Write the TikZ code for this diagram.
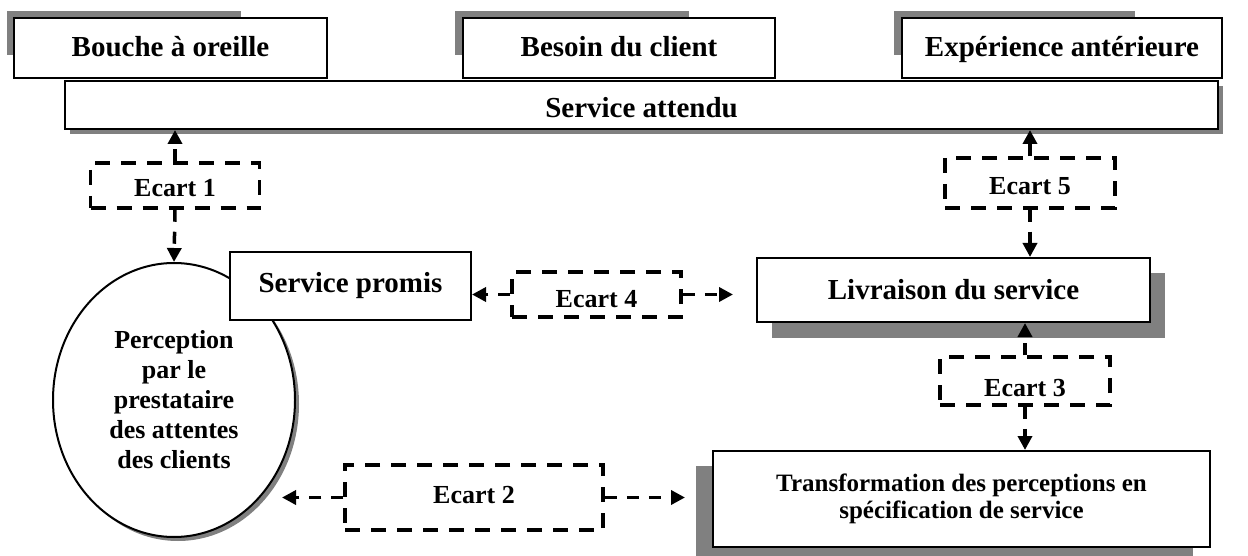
\documentclass[tikz,border=0pt]{standalone}
\usepackage{fontspec}
\setmainfont{Liberation Serif}
\usetikzlibrary{arrows.meta,shapes.geometric}
\definecolor{shade}{HTML}{808080}
\begin{document}
\begin{tikzpicture}[x=1pt,y=-1pt,
  box/.style={draw=black, line width=2pt, fill=white, rectangle, inner sep=0pt,
    font=\bfseries\fontsize{29}{34}\selectfont, align=center},
  toprow/.style={box, minimum height=60pt, text height=22pt, text depth=4pt},
  gapbox/.style={draw=black, line width=3.5pt, dash pattern=on 15pt off 11pt,
    rectangle, inner sep=0pt, text depth=0pt,
    font=\bfseries\fontsize{26}{30}\selectfont},
  conn/.style={line width=3.5pt, dash pattern=on 12pt off 10pt,
    -{Triangle[length=14pt,width=14pt]}},
  shadowfill/.style={fill=shade, draw=none}
]
\useasboundingbox (0,0) rectangle (1248,556);

% shadows behind the boxes
\fill[shadowfill] (7,11) rectangle (241,55);
\fill[shadowfill] (455,11) rectangle (689,55);
\fill[shadowfill] (894,11) rectangle (1135,55);
\fill[shadowfill] (70,86) rectangle (1223,134);
\fill[shadowfill] (772,273) rectangle (1165,338);
\fill[shadowfill] (696,466) rectangle (1193,560);
\fill[shadowfill] (178,404) ellipse [x radius=121pt, y radius=137pt];

% sources of the expected service
\node[toprow, minimum width=313pt] (bouche) at (170.5,48) {Bouche à oreille};
\node[toprow, minimum width=312pt] (besoin) at (619,48) {Besoin du client};
\node[toprow, minimum width=320pt] (experience) at (1062,48) {Expérience antérieure};
\node[box, minimum width=1153pt, minimum height=48pt, text height=26pt, text depth=0pt]
  (attendu) at (641.5,105) {Service attendu};

% provider side
\node[draw=black, line width=2pt, fill=white, ellipse, inner sep=0pt,
  minimum width=242pt, minimum height=274pt, align=center,
  font=\bfseries\fontsize{26}{30}\selectfont] (perc) at (174,400)
  {Perception\\par le\\prestataire\\des attentes\\des clients};
\node[box, minimum width=241pt, minimum height=68pt] (promis) at (350.5,286) {Service promis};
\node[box, minimum width=393pt, minimum height=64pt] (livraison) at (953.5,290) {Livraison du service};
\node[box, minimum width=497pt, minimum height=96pt,
  font=\bfseries\fontsize{25}{27}\selectfont] (transfo) at (961.5,499)
  {Transformation des perceptions en\\spécification de service};

% the five gaps
\node[gapbox, minimum width=169pt, minimum height=45pt, text height=23pt] (ecart1) at (175,185.5) {Ecart 1};
\node[gapbox, minimum width=258pt, minimum height=65pt, text height=11pt] (ecart2) at (474,497.5) {Ecart 2};
\node[gapbox, minimum width=170pt, minimum height=48pt, text height=30pt] (ecart3) at (1025,381) {Ecart 3};
\node[gapbox, minimum width=169pt, minimum height=45pt, text height=26pt] (ecart4) at (596.5,294.5) {Ecart 4};
\node[gapbox, minimum width=170pt, minimum height=50pt, text height=24pt] (ecart5) at (1030,183) {Ecart 5};

% free ends of the open arrows
\coordinate (e2left) at (282,497.5);
\coordinate (e2right) at (685,497.5);
\coordinate (e4right) at (733,294.5);

% connectors
\draw[conn] (ecart1.north) -- (ecart1.north |- attendu.south);
\draw[conn] (ecart1.south) -- (perc.north);
\draw[conn] (ecart5.north) -- (ecart5.north |- attendu.south);
\draw[conn] (ecart5.south) -- (ecart5.south |- livraison.north);
\draw[conn] (ecart4.west) -- (ecart4.west -| promis.east);
\draw[conn] (ecart4.east) -- (e4right);
\draw[conn] (ecart3.north) -- (ecart3.north |- livraison.south);
\draw[conn] (ecart3.south) -- (ecart3.south |- transfo.north);
\draw[conn] (ecart2.west) -- (e2left);
\draw[conn] (ecart2.east) -- (e2right);
\end{tikzpicture}
\end{document}
